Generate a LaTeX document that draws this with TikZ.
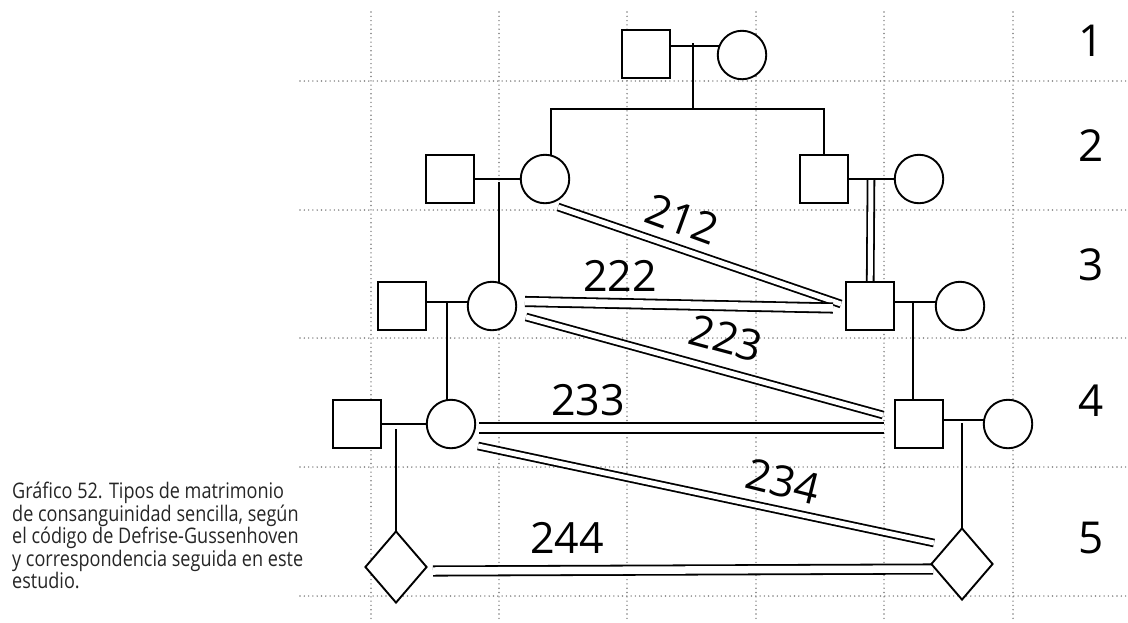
\documentclass[tikz,border=0pt]{standalone}
\usepackage{fontspec}
\setmainfont{Open Sans}
\newfontfamily\capfont[FakeStretch=0.84]{Open Sans}
\usetikzlibrary{shapes.geometric,calc}
\pgfdeclarelayer{gridlayer}
\pgfdeclarelayer{connlayer}
\pgfsetlayers{gridlayer,connlayer,main}
\begin{document}
\begin{tikzpicture}[x=1pt,y=-1pt,
  dotgrid/.style={line width=1.6pt, line cap=round, dash pattern=on 0pt off 4.3pt, black!50},
  sq/.style={draw, line width=1.9pt, minimum size=48.5pt, inner sep=0pt, fill=white},
  ci/.style={draw, circle, line width=1.9pt, minimum size=48.5pt, inner sep=0pt, fill=white},
  di/.style={draw, diamond, line width=1.9pt, minimum width=62pt, minimum height=72pt, inner sep=0pt, fill=white},
  ln/.style={line width=1.8pt},
  dbl/.style={double=white, double distance=5pt, line width=1.8pt},
  dblw/.style={dbl, double distance=7.5pt},
  lab/.style={font=\fontsize{43}{43}\selectfont, inner sep=0pt},
  gen/.style={font=\fontsize{44}{44}\selectfont, inner sep=0pt}
]
\useasboundingbox (0,0) rectangle (1128,622);

% nodes
\node[sq] (s1) at (646,54) {};
\node[ci] (c1) at (742,55) {};
\node[sq] (s2l) at (450,179) {};
\node[ci] (c2l) at (545,179) {};
\node[sq] (s2r) at (824,179) {};
\node[ci] (c2r) at (919,179) {};
\node[sq] (s3l) at (402,306) {};
\node[ci] (c3l) at (492,306) {};
\node[sq] (s3r) at (870,306) {};
\node[ci] (c3r) at (960,306) {};
\node[sq] (s4l) at (357,424) {};
\node[ci] (c4l) at (451,424) {};
\node[sq] (s4r) at (919,424) {};
\node[ci] (c4r) at (1008,424) {};
\node[di] (d5l) at (396,567) {};
\node[di] (d5r) at (962,564) {};

\coordinate (m1) at (693,43);
\coordinate (sib1) at (693,109);
\coordinate (m2l) at (499,182);
\coordinate (m2r) at (871,179);
\coordinate (m3l) at (447,302);
\coordinate (m3r) at (913,302);
\coordinate (m4l) at (396,429);
\coordinate (m4r) at (962,423);

\begin{pgfonlayer}{gridlayer}
\fill[white] (0,0) rectangle (1128,622);
\foreach \y in {81,210,338,467,596} \draw[dotgrid] (300,\y) -- (1128,\y);
\foreach \x in {371,499,627,756,884,1013} \draw[dotgrid] (\x,12) -- (\x,622);
\end{pgfonlayer}

\begin{pgfonlayer}{connlayer}
% consanguinity double lines
\draw[dbl] (m2r) -- (s3r.center);
\draw[dbl] ($(c2l)+(13,28)$) -- ($(s3r)+(-29,-2)$);
\draw[dblw] ($(c3l)+(33,-4.5)$) -- ($(s3r)+(-37,2)$);
\draw[dbl] ($(c3l)+(34,11)$) -- ($(s4r)+(-36,-9)$);
\draw[dblw] ($(c4l)+(28,4)$) -- ($(s4r)+(-35,4)$);
\draw[dbl] ($(c4l)+(27,22)$) -- ($(d5r)+(-28,-21)$);
\draw[dblw] ($(d5l)+(37,4)$) -- ($(d5r)+(-29,5)$);
% marriages and descent
\draw[ln] ([yshift=8pt]s1.center) -- ([yshift=8pt]s1.center -| c1.center);
\draw[ln] (m1) -- (sib1);
\draw[ln] ([xshift=6pt]c2l.center) |- (sib1) -| (s2r.center);
\draw[ln] (s2l.center) -- (c2l.center);
\draw[ln] (s2r.center) -- (c2r.center);
\draw[ln] (m2l) -- (m2l |- c3l.center);
\draw[ln] ([yshift=4pt]s3l.center) -- ([yshift=4pt]c3l.center);
\draw[ln] ([yshift=4pt]s3r.center) -- ([yshift=4pt]c3r.center);
\draw[ln] (m3l) -- (m3l |- c4l.center);
\draw[ln] (m3r) -- (m3r |- s4r.center);
\draw[ln] (s4l.center) -- (c4l.center);
\draw[ln] ([yshift=4pt]s4r.center) -- ([yshift=4pt]c4r.center);
\draw[ln] (m4l) -- (d5l.center);
\draw[ln] (m4r) -- (d5r.center);
\end{pgfonlayer}

% labels
\begin{scope}[y=1pt]
\node[lab, rotate=-20] (l212) at (682,-219) {212};
\node[lab] (l222) at (620,-276) {222};
\node[lab, rotate=-15] (l223) at (726,-338) {223};
\node[lab] (l233) at (588,-400) {233};
\node[lab, rotate=-14] (l234) at (783,-482) {234};
\node[lab] (l244) at (567,-538) {244};
\end{scope}

\node[gen] (g1) at (1091,41) {1};
\node[gen] (g2) at (1091,146) {2};
\node[gen] (g3) at (1091,265) {3};
\node[gen] (g4) at (1091,401) {4};
\node[gen] (g5) at (1091,538) {5};

\node[anchor=north west, inner sep=0pt, align=left, text=black!85,
  font=\capfont\fontsize{21.5}{20.6}\selectfont] (cap) at (12,482)
  {Gráfico 52. Tipos de matrimonio\\de consanguinidad sencilla, según\\el código de Defrise-Gussenhoven\\y correspondencia seguida en este\\estudio.};
\end{tikzpicture}
\end{document}
